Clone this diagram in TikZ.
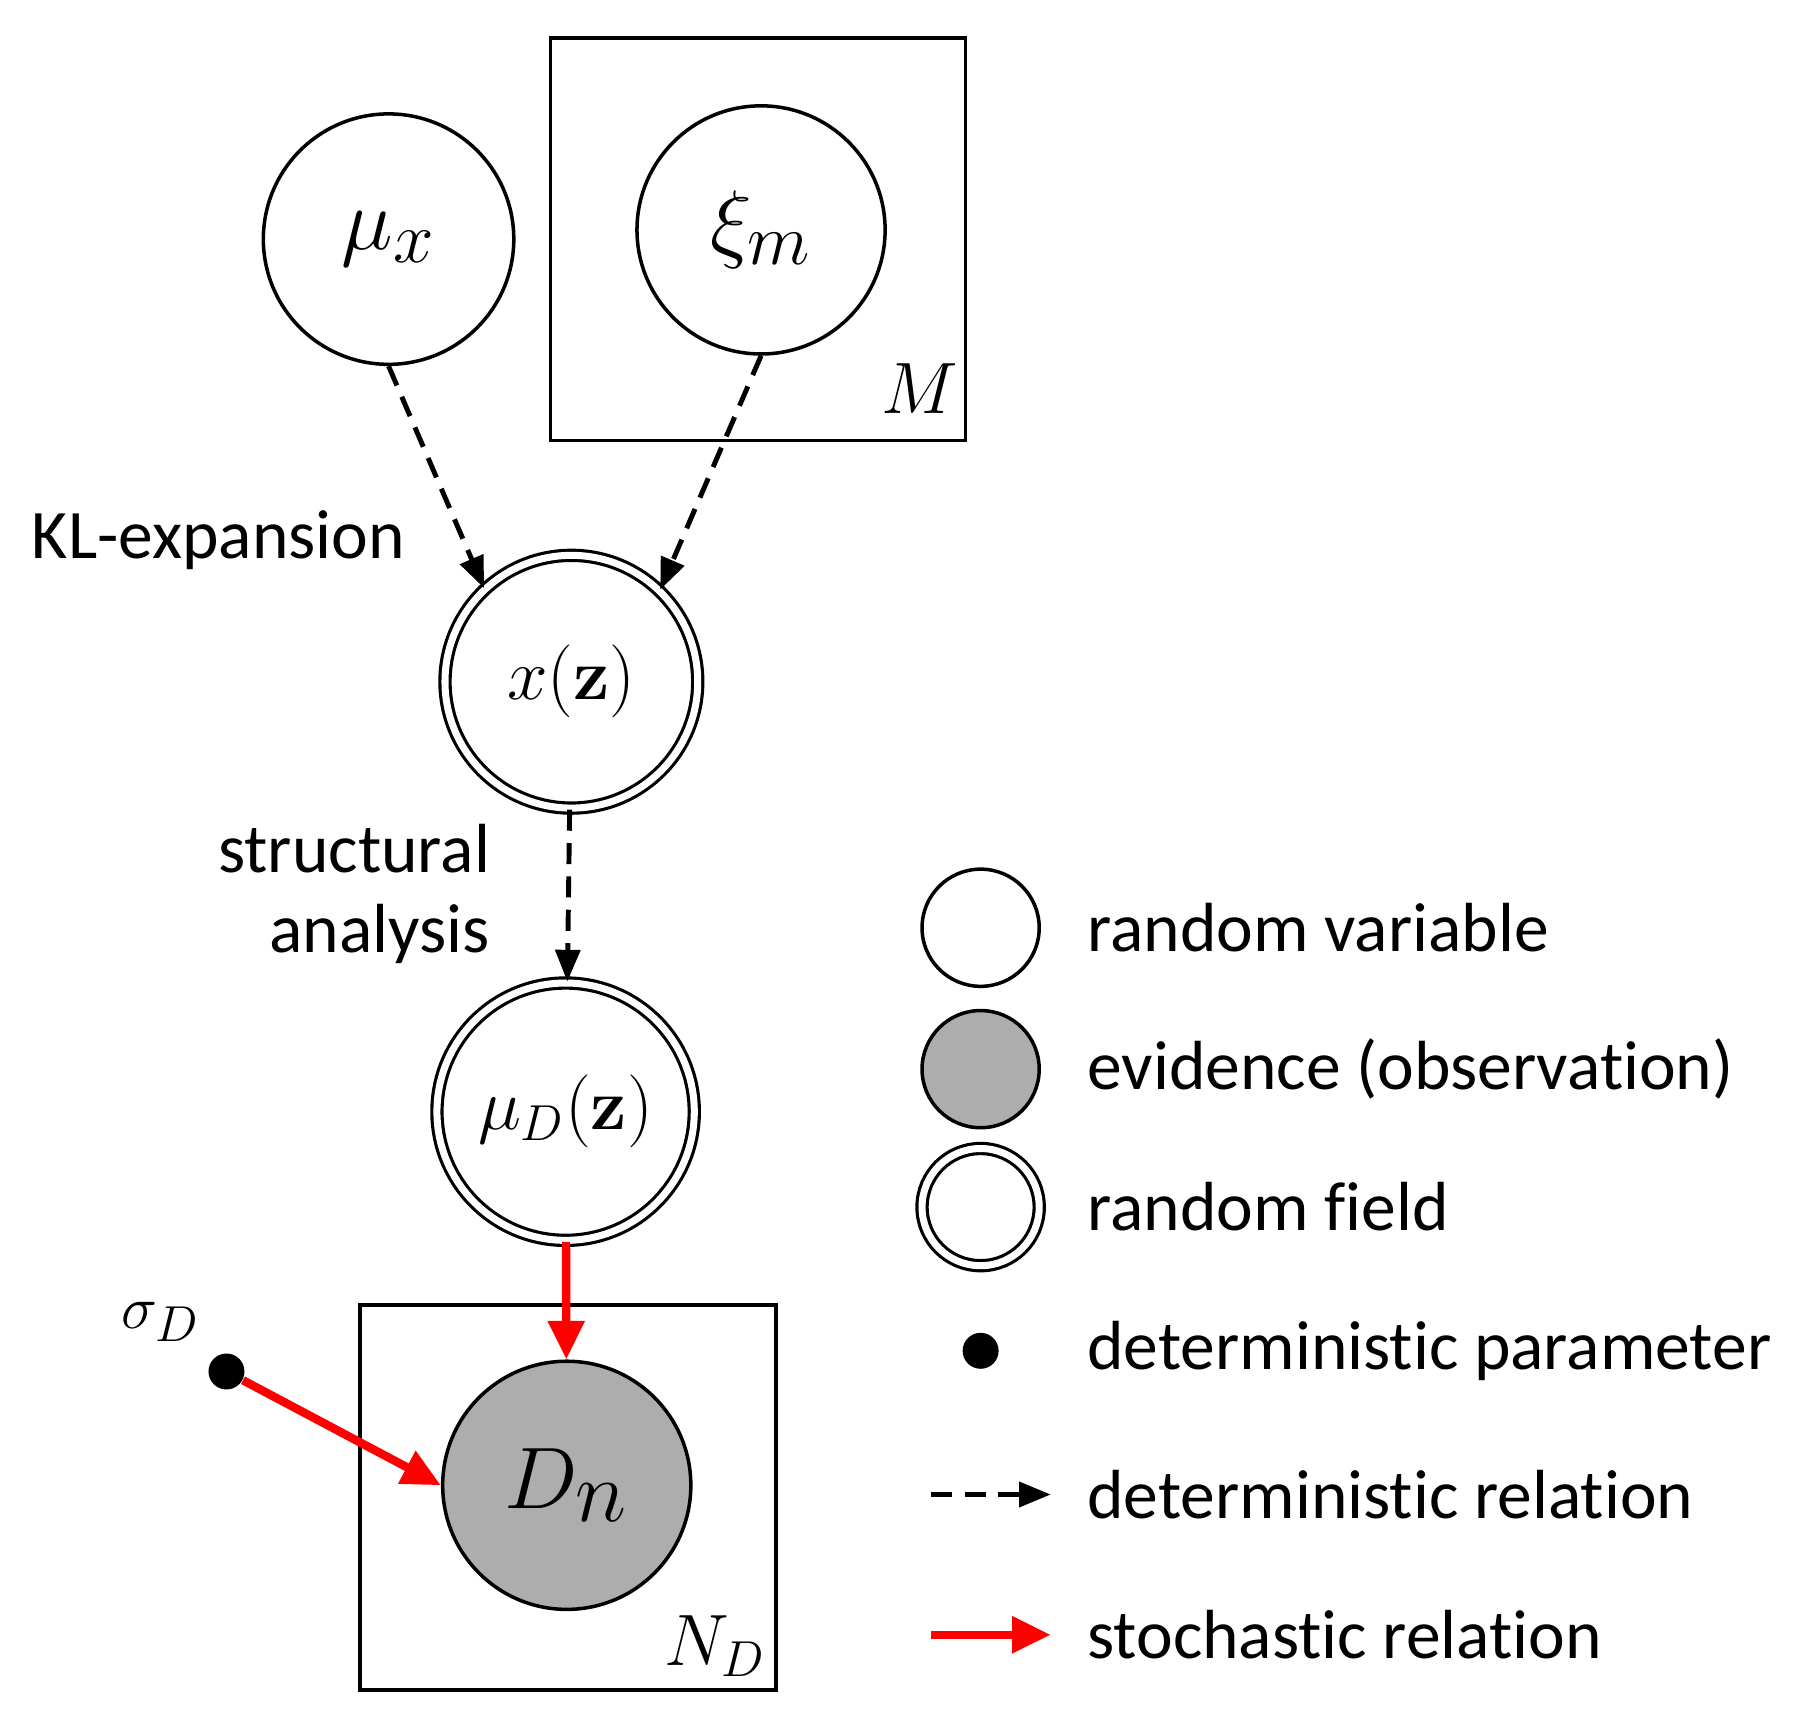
\documentclass[tikz,border=0pt]{standalone}
\usepackage[no-math]{fontspec}
\setmainfont{Carlito}[Ligatures=NoCommon]
\usetikzlibrary{arrows.meta}
\begin{document}
\begin{tikzpicture}[x=0.0115cm,y=-0.0115cm,
  rv/.style={circle,draw,line width=1pt,fill=white,inner sep=0pt,minimum size=#1*0.023cm},
  rf/.style={rv=#1,double,double distance=2pt,line width=0.9pt},
  plate/.style={draw,line width=1pt},
  det/.style={-{Triangle[length=9pt,width=7pt]},dashed,line width=1.4pt,dash pattern=on 6pt off 3.5pt},
  sto/.style={-{Triangle[length=11pt,width=10pt]},red,line width=2.4pt},
  txt/.style={font=\fontsize{19.8}{24}\selectfont},
  mth/.style={font=\fontsize{28}{32}\selectfont}]
\useasboundingbox (0,0) rectangle (1564,1496);
\draw[plate] (479,33) rectangle (840,383);
\node[font=\fontsize{21}{24}\selectfont] at (800,338) {$M$};
\draw[plate] (313,1135) rectangle (675,1470);
\node[font=\fontsize{21}{24}\selectfont] at (622,1432) {$N_D$};
\node[rv=109,mth] (mu) at (338,208) {$\mu_x$};
\node[rv=108,mth] (xi) at (662,200) {$\xi_m$};
\node[rf=110,font=\fontsize{22}{26}\selectfont] (x) at (497,593) {$x(\mathbf{z})$};
\node[rf=112,font=\fontsize{21}{26}\selectfont] (muD) at (492,967) {$\mu_D(\mathbf{z})$};
\node[rv=108,fill=black!32,font=\fontsize{34}{38}\selectfont] (D) at (493,1292) {$D_n$};
\node[circle,fill=black,inner sep=0pt,minimum size=0.36cm] (s) at (197,1193) {};
\node[font=\fontsize{19}{22}\selectfont] at (140,1150) {$\sigma_D$};
\draw[det] (mu.south) -- (x.133);
\draw[det] (xi.south) -- (x.46);
\draw[det] (x) -- (muD);
\draw[sto] (muD) -- (D);
\draw[sto] (s) -- (D.west);
\node[txt] at (190,470) {KL-expansion};
\node[txt,anchor=east] at (437,738) {structural};
\node[txt,anchor=east] at (437,812) {analysis};
% legend
\node[rv=51] (l1) at (853,807) {};
\node[rv=51,fill=black!32] (l2) at (853,930) {};
\node[rf=51] (l3) at (853,1050) {};
\node[circle,fill=black,inner sep=0pt,minimum size=0.36cm] (l4) at (853,1175) {};
\coordinate (a1) at (810,1300); \coordinate (a2) at (914,1300);
\coordinate (b1) at (810,1422); \coordinate (b2) at (914,1422);
\draw[det] (a1) -- (a2);
\draw[sto] (b1) -- (b2);
\foreach \y/\t in {807/random variable,930/evidence (observation),1050/random field,1175/deterministic parameter,1300/deterministic relation,1422/stochastic relation}
  \node[txt,anchor=west] at (935,\y) {\t};
\end{tikzpicture}
\end{document}
